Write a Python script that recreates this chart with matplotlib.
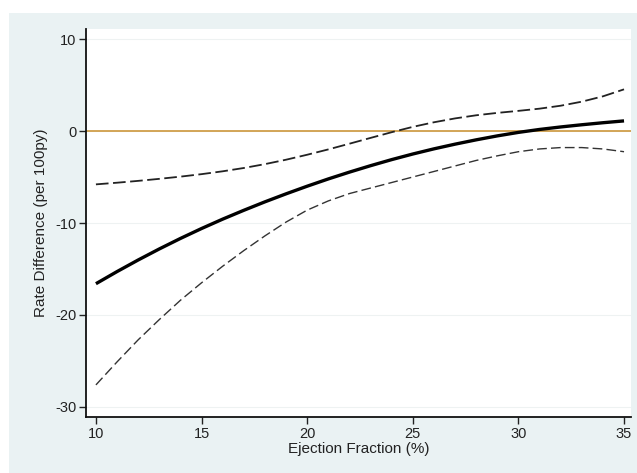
import matplotlib
matplotlib.use("Agg")
import matplotlib.pyplot as plt
from matplotlib.patches import Rectangle

plt.rcParams["font.family"] = ["Liberation Sans", "DejaVu Sans"]
plt.rcParams["axes.unicode_minus"] = False

ejection = [10, 11, 12, 13, 14, 15, 16, 17, 18, 19, 20, 21, 22, 23, 24, 25,
            26, 27, 28, 29, 30, 31, 32, 33, 34, 35]
estimate = [-16.60, -15.28, -14.02, -12.82, -11.68, -10.60, -9.58, -8.62,
            -7.70, -6.83, -6.00, -5.21, -4.47, -3.77, -3.11, -2.50, -1.94,
            -1.43, -0.96, -0.53, -0.15, 0.17, 0.44, 0.68, 0.90, 1.10]
upper = [-5.80, -5.62, -5.42, -5.20, -4.96, -4.69, -4.38, -4.02, -3.60, -3.12,
         -2.58, -2.00, -1.38, -0.75, -0.13, 0.45, 0.95, 1.37, 1.71, 1.97,
         2.19, 2.43, 2.75, 3.19, 3.77, 4.53]
lower = [-27.6, -25.1, -22.7, -20.5, -18.4, -16.5, -14.7, -13.0, -11.4, -9.9,
         -8.6, -7.6, -6.8, -6.2, -5.6, -5.0, -4.4, -3.8, -3.2, -2.7, -2.25,
         -1.95, -1.8, -1.8, -1.95, -2.25]
xticks = [10, 15, 20, 25, 30, 35]
yticks = [-30, -20, -10, 0, 10]

W, H = 637, 473
fig = plt.figure(figsize=(W / 100, H / 100), dpi=100)
fig.patch.set_facecolor("white")

bgax = fig.add_axes([0, 0, 1, 1], zorder=-5)
bgax.set_axis_off()
bgax.set_xlim(0, W)
bgax.set_ylim(H, 0)
bgax.add_patch(Rectangle((9, 13), W - 9, H - 13, facecolor="#EAF2F3",
                         edgecolor="none"))

ax = fig.add_axes([86 / W, 1 - 417 / H, (631 - 86) / W, (417 - 29) / H],
                  zorder=1)
ax.set_facecolor("white")

for yt in yticks:
    ax.axhline(yt, color="#EEF2F2", lw=0.8, zorder=1)
ax.axhline(0, color="#D09E4A", lw=1.3, zorder=2)

ax.plot(ejection, upper, color="#222222", lw=1.3, ls=(0, (7, 2.5)), zorder=3)
ax.plot(ejection, lower, color="#333333", lw=1.0, ls=(0, (7, 3)), zorder=3)
ax.plot(ejection, estimate, color="black", lw=2.4, zorder=4,
        solid_capstyle="butt")

ax.set_xlim(9.53, 35.33)
ax.set_ylim(-31.09, 11.09)
ax.set_xticks(xticks)
ax.set_yticks(yticks)
ax.tick_params(axis="both", direction="out", length=5, width=1,
               labelsize=10.5, colors="#222222", pad=2)
for s in ["top", "right"]:
    ax.spines[s].set_visible(False)
for s in ["left", "bottom"]:
    ax.spines[s].set_linewidth(1.3)
    ax.spines[s].set_color("#111111")

ax.set_xlabel("Ejection Fraction (%)", fontsize=11, color="#222222",
              labelpad=1)
ax.set_ylabel("Rate Difference (per 100py)", fontsize=11, color="#222222",
              labelpad=5)

fig.savefig("out.png", dpi=100, facecolor=fig.get_facecolor())
